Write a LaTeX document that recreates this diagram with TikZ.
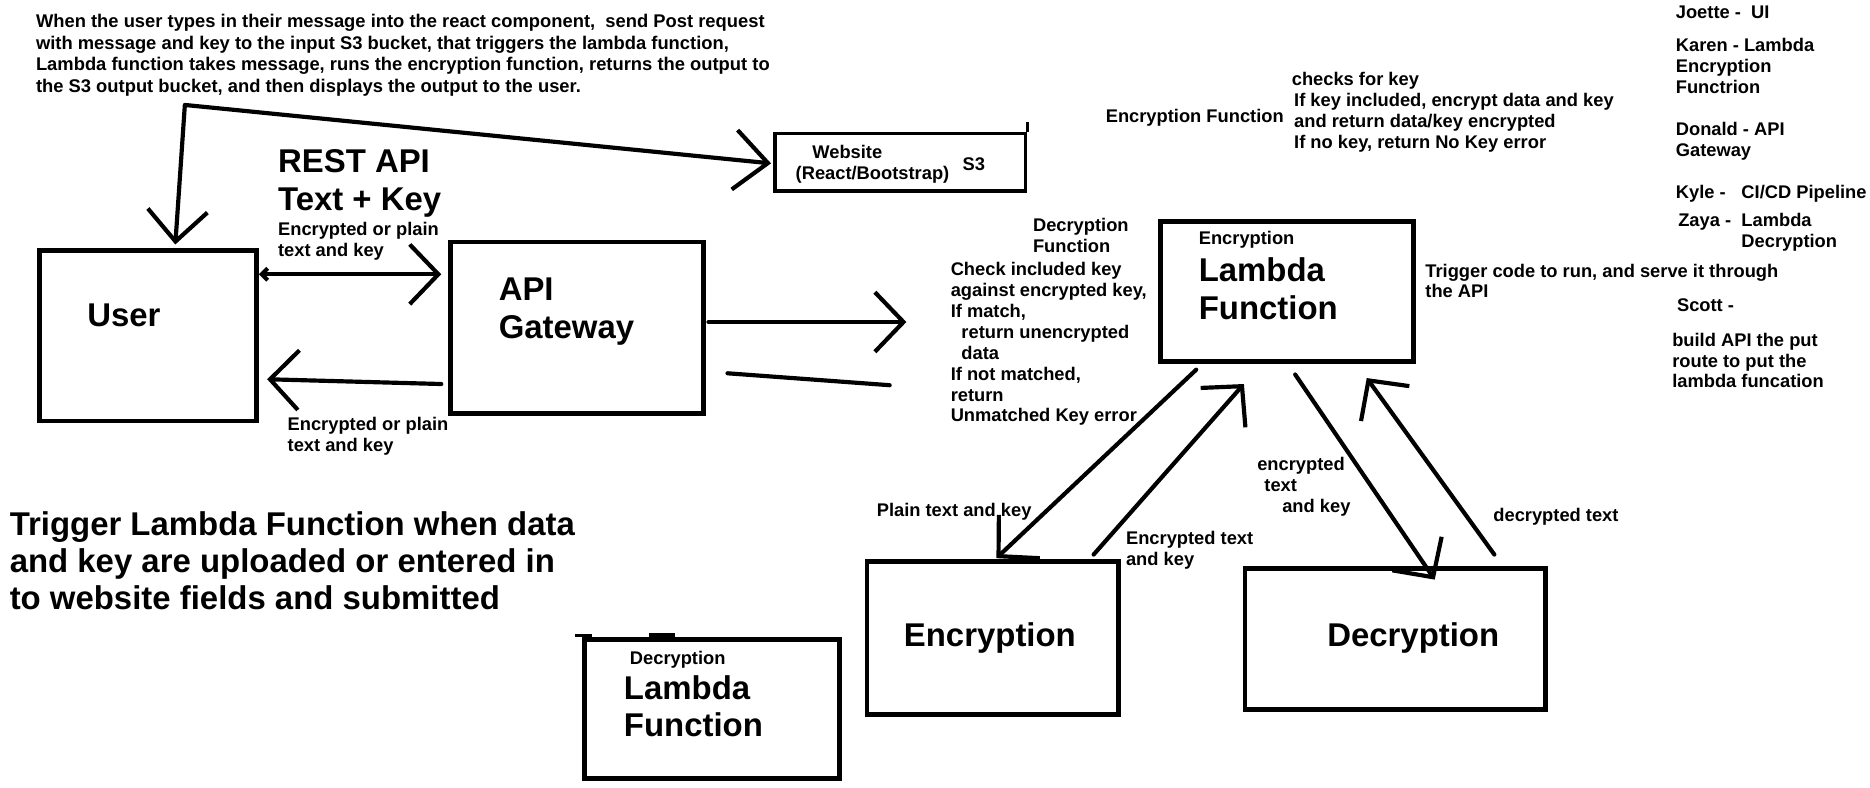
\documentclass[tikz,border=0pt]{standalone}
\usepackage{fontspec}
\setmainfont{Liberation Sans}
\usetikzlibrary{arrows.meta,calc}
\begin{document}
\begin{tikzpicture}[x=1pt,y=-1pt,
  box/.style={draw, line width=4pt, inner sep=0pt},
  sm/.style={font=\fontsize{15.35}{17.5}\selectfont\bfseries, anchor=north west, inner sep=0pt, align=left},
  big/.style={font=\fontsize{27.6}{31.5}\selectfont\bfseries, anchor=north west, inner sep=0pt, align=left},
  ln/.style={line width=3.5pt, line cap=round, line join=round},
  arr/.style={ln, -{Straight Barb[length=24pt,width=50pt]}},
  darr/.style={ln, {Straight Barb[length=26pt,width=50pt]}-{Straight Barb[length=28pt,width=50pt]}},
]
\fill[white] (0,0) rectangle (1568,660);
\useasboundingbox (0,0) rectangle (1568,660);

% ---------- boxes ----------
\node[box, minimum width=182pt, minimum height=143pt] (user) at (124,281.5) {};
\node[box, minimum width=212pt, minimum height=144pt] (api) at (484,275) {};
\node[box, line width=3pt, minimum width=210pt, minimum height=48pt] (web) at (755,136) {};
\node[box, minimum width=212pt, minimum height=117pt] (lam) at (1079,244.5) {};
\node[box, minimum width=211pt, minimum height=128pt] (enc) at (832.5,535) {};
\node[box, minimum width=252pt, minimum height=118pt] (dec) at (1170,536) {};
\node[box, minimum width=214pt, minimum height=117pt] (dlam) at (597,594.5) {};

% small marks on boxes
\draw[line width=3pt] ($(web.north east)+(0,-8)$) -- (web.north east);
\draw[line width=3pt] ($(dlam.north west)+(-6,-1)$) -- ($(dlam.north west)+(8,-1)$);
\draw[line width=3pt] ($(dlam.north west)+(56,-1.5)$) -- ($(dlam.north west)+(78,-1.5)$);

% ---------- texts ----------
\node[sm, font=\fontsize{15.4}{18}\selectfont\bfseries] (intro) at (30,12) {When the user types in their message into the react component, \ send Post request\\with message and key to the input S3 bucket, that triggers the lambda function,\\Lambda function takes message, runs the encryption function, returns the output to\\the S3 output bucket, and then displays the output to the user.};

\node[big, font=\fontsize{27.6}{32}\selectfont\bfseries] (rest) at (233,125) {REST API\\Text + Key};
\node[sm] (lab1) at (233,186) {Encrypted or plain\\text and key};
\node[sm] (lab2) at (241,350) {Encrypted or plain\\text and key};

\node[big] (usertxt) at (73,255) {User};
\node[big, font=\fontsize{27.6}{32}\selectfont\bfseries] (apitxt) at (418,233) {API\\Gateway};

\node[sm] (webtxt1) at (681,122) {Website};
\node[sm] (webtxt2) at (667,139) {(React/Bootstrap)};
\node[sm] (s3txt) at (807,132) {S3};

\node[sm] (encfun) at (927,91) {Encryption Function};
\node[sm] (chk) at (1083,60) {checks for key};
\node[sm] (chk2) at (1085,78) {If key included, encrypt data and key\\and return data/key encrypted\\If no key, return No Key error};

\node[sm] (decfun1) at (866,183) {Decryption};
\node[sm] (decfun2) at (866,200.5) {Function};
\node[sm] (decdesc) at (797,220) {Check included key\\against encrypted key,\\If match,\\\hspace*{9pt}return unencrypted\\\hspace*{9pt}data\\If not matched,\\return\\Unmatched Key error};

\node[sm] (lamsmall) at (1005,194) {Encryption};
\node[big, font=\fontsize{27.6}{32}\selectfont\bfseries] (lamtxt) at (1005,216) {Lambda\\Function};
\node[sm] (trig) at (1195,221) {Trigger code to run, and serve it through\\the API};

\node[sm] (joette) at (1405,5) {Joette - \ UI};
\node[sm] (karen) at (1405,32) {Karen - Lambda\\Encryption\\Functrion};
\node[sm] (donald) at (1405,102) {Donald - API\\Gateway};
\node[sm] (kyle) at (1405,155) {Kyle -};
\node[sm] (kyle2) at (1460,155) {CI/CD Pipeline};
\node[sm] (zaya) at (1407,179) {Zaya -};
\node[sm] (zaya2) at (1460,179) {Lambda\\Decryption};
\node[sm] (scott) at (1406,250) {Scott -};
\node[sm] (build) at (1402,279) {build API the put\\route to put the\\lambda funcation};

\node[big, font=\fontsize{27.6}{31}\selectfont\bfseries] (trigger) at (8,429) {Trigger Lambda Function when data\\and key are uploaded or entered in\\to website fields and submitted};

\node[sm] (dlsmall) at (528,546) {Decryption};
\node[big, font=\fontsize{27.6}{31}\selectfont\bfseries] (dltxt) at (523,566) {Lambda\\Function};

\node[big, anchor=center] (enctxt) at (830,535) {Encryption};
\node[big, anchor=center] (dectxt) at (1185,535) {Decryption};

\node[sm] (plain) at (735,422) {Plain text and key};
\node[sm] (enctk) at (944,445) {Encrypted text\\and key};
\node[sm] (encrtk) at (1054,383) {encrypted\\\hspace*{6pt}text\\\hspace*{21pt}and key};
\node[sm] (decrt) at (1252,426) {decrypted text};

% ---------- connectors ----------
\coordinate (bend) at (155,88);
\draw[darr] ($(user.north)+(23,-3)$) -- (bend) -- ($(web.west)+(-2,1)$);

\draw[ln, {Straight Barb[length=5pt,width=10pt]}-{Straight Barb[length=24pt,width=50pt]}]
  ($(user.north east)+(0,22)$) -- ($(api.north west)+(-6,29)$);
\draw[arr] ($(api.south west)+(-6,-27)$) -- ($(user.south east)+(7,-37)$);

\coordinate (r1) at (760,270);
\draw[arr] ($(api.east)+(2,-5)$) -- (r1);
\coordinate (s1) at (610,313);
\coordinate (s2) at (746,323);
\draw[ln] (s1) -- (s2);

\draw[arr] ($(lam.south west)+(32,5)$) -- ($(enc.north)+(3,-1)$);
\draw[arr] ($(enc.north east)+(-23,-4)$) -- ($(lam.south west)+(72,17)$);
\draw[arr] ($(lam.south west)+(115,9)$) -- ($(dec.north)+(33,11)$);
\draw[arr] ($(dec.north)+(83,-10)$) -- ($(lam.south west)+(175,12)$);
\end{tikzpicture}
\end{document}
